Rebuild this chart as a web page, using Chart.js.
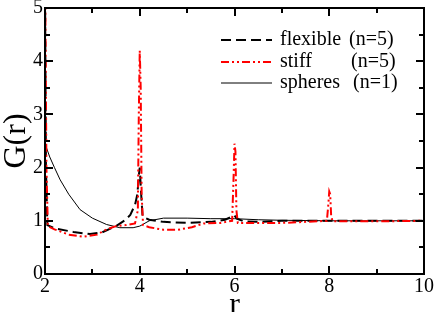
<!DOCTYPE html>
<html>
<head>
<meta charset="utf-8">
<script src="https://cdn.jsdelivr.net/npm/chart.js@4"></script>
<style>
	html, body { margin: 0; padding: 0; background: #fff; }
	canvas { display: block; }
</style>
</head>
<body>
<canvas id="chart" width="436" height="312"></canvas>
<script>
// G(r) curves
const rFlex = [2.0, 2.02, 2.05, 2.2, 2.6, 2.95, 3.2, 3.5, 3.7, 3.8, 3.9, 3.95, 3.98, 4.0, 4.03, 4.06, 4.2, 4.5, 5.0, 5.5, 5.8, 5.95, 6.0, 6.05, 6.2, 6.5, 7.0, 8.0, 9.0, 10.0];
const gFlex = [5.5, 2.0, 0.92, 0.86, 0.79, 0.75, 0.78, 0.9, 1.02, 1.11, 1.3, 1.5, 1.85, 2.0, 1.5, 1.08, 1.02, 0.98, 0.96, 0.98, 1.02, 1.08, 1.1, 1.04, 0.99, 0.98, 1.0, 1.0, 1.0, 1.0];

const rStiff = [2.0, 2.03, 2.06, 2.2, 2.5, 2.8, 3.1, 3.3, 3.5, 3.7, 3.9, 3.96, 3.98, 4.0, 4.02, 4.04, 4.07, 4.2, 4.5, 4.8, 5.1, 5.35, 5.7, 5.95, 5.98, 6.0, 6.02, 6.04, 6.07, 6.5, 7.0, 7.5, 7.95, 7.98, 8.0, 8.02, 8.04, 8.07, 9.0, 10.0];
const gStiff = [6.0, 2.0, 0.9, 0.84, 0.74, 0.7, 0.74, 0.84, 0.9, 0.92, 0.95, 1.2, 3.0, 4.2, 3.5, 1.5, 0.92, 0.88, 0.83, 0.83, 0.88, 0.95, 0.96, 1.0, 1.8, 2.45, 2.3, 1.2, 0.96, 0.96, 0.96, 0.98, 1.0, 1.3, 1.55, 1.5, 1.1, 0.99, 0.99, 1.0];

const rSph = [2.0, 2.1, 2.2, 2.32, 2.5, 2.74, 3.0, 3.3, 3.58, 3.86, 4.0, 4.2, 4.5, 5.0, 5.5, 6.0, 6.5, 7.0, 8.0, 10.0];
const gSph = [2.45, 2.2, 2.0, 1.77, 1.5, 1.21, 1.05, 0.93, 0.87, 0.87, 0.9, 1.0, 1.05, 1.05, 1.04, 1.04, 1.02, 1.01, 1.0, 1.0];

const seriesNames = ["flexible", "stiff", "spheres"];
const seriesN = ["(n=5)", "(n=5)", "(n=1)"];

const xTitle = "r";
const yTitle = "G(r)";

const serif = "'Liberation Serif', 'Times New Roman', serif";

function pts(xs, ys) {
	const out = [];
	for (let i=0; i<xs.length; i++) {
		out.push({x: xs[i], y: ys[i]});
	}
	return out;
}

const styles = [
	{color: "#000000", width: 2, dash: [10, 5]},
	{color: "#ff0000", width: 2, dash: [8, 3, 2, 3, 2, 3]},
	{color: "#000000", width: 1, dash: []},
];

// frame on all four sides and inward ticks, done with fillRect
const framePlugin = {
	id: "frame",
	afterDraw(chart) {
		const ctx = chart.ctx;
		const a = chart.chartArea;
		const xs = chart.scales.x;
		const ys = chart.scales.y;
		const l = Math.round(a.left), r = Math.round(a.right);
		const t = Math.round(a.top), b = Math.round(a.bottom);
		ctx.save();
		ctx.fillStyle = "#000";
		ctx.fillRect(l - 1, t - 1, r - l + 2, 2);
		ctx.fillRect(l - 1, b - 1, r - l + 2, 2);
		ctx.fillRect(l - 1, t - 1, 2, b - t + 2);
		ctx.fillRect(r - 1, t - 1, 2, b - t + 2);

		const nx = Math.round(xs.max - xs.min);
		for (let i=0; i<=nx; i++) {
			const v = xs.min + i;
			const px = Math.round(xs.getPixelForValue(v));
			const len = (v % 2 == 0) ? 8 : 5;
			ctx.fillRect(px - 1, b - len, 2, len);
			ctx.fillRect(px - 1, t, 2, len);
		}
		const ny = Math.round((ys.max - ys.min) * 2);
		for (let i=0; i<=ny; i++) {
			const py = Math.round(ys.getPixelForValue(ys.min + i * 0.5));
			const len = (i % 2 == 0) ? 8 : 5;
			ctx.fillRect(l, py - 1, len, 2);
			ctx.fillRect(r - len, py - 1, len, 2);
		}
		ctx.restore();
	},
};

// legend inside the plot, top right
const legendPlugin = {
	id: "innerLegend",
	afterDraw(chart) {
		const ctx = chart.ctx;
		const rows = [40, 62, 83];
		ctx.save();
		ctx.font = "20px " + serif;
		ctx.fillStyle = "#000";
		ctx.textBaseline = "middle";
		ctx.textAlign = "left";
		for (let i=0; i<seriesNames.length; i++) {
			const s = styles[i];
			ctx.beginPath();
			ctx.strokeStyle = s.color;
			ctx.lineWidth = s.width;
			ctx.setLineDash(s.dash);
			ctx.moveTo(221, rows[i]);
			ctx.lineTo(272, rows[i]);
			ctx.stroke();
			ctx.fillText(seriesNames[i], 280, rows[i]);
			ctx.fillText(seriesN[i], 349 + i*2, rows[i]);
		}
		ctx.restore();
	},
};

const order = [1, 0, 2];
const datasets = [
	{label: seriesNames[1], data: pts(rStiff, gStiff)},
	{label: seriesNames[0], data: pts(rFlex, gFlex)},
	{label: seriesNames[2], data: pts(rSph, gSph)},
].map((d, i) => {
	const s = styles[order[i]];
	return Object.assign(d, {
		borderColor: s.color,
		borderWidth: s.width,
		borderDash: s.dash,
		pointRadius: 0,
		tension: 0,
		fill: false,
	});
});

new Chart("chart", {
	type: "line",
	data: {datasets: datasets},
	options: {
		responsive: false,
		animation: false,
		devicePixelRatio: 1,
		events: [],
		layout: {padding: {top: 8, right: 12, left: 0, bottom: 0}},
		plugins: {
			legend: {display: false},
			tooltip: {enabled: false},
		},
		scales: {
			x: {
				type: "linear",
				min: 2,
				max: 10,
				grid: {display: false, drawTicks: false},
				border: {display: false},
				ticks: {
					stepSize: 2,
					autoSkip: false,
					maxRotation: 0,
					padding: 3,
					color: "#000",
					font: {family: serif, size: 20, lineHeight: 1},
				},
				title: {
					display: true,
					text: xTitle,
					color: "#000",
					font: {family: serif, size: 32, lineHeight: 1},
					padding: {top: 0, bottom: -10},
				},
				afterFit(scale) {
					scale.height = 38;
					scale.paddingLeft = 0;
					scale.paddingRight = 0;
				},
			},
			y: {
				min: 0,
				max: 5,
				grid: {display: false, drawTicks: false},
				border: {display: false},
				ticks: {
					stepSize: 1,
					autoSkip: false,
					padding: 2,
					color: "#000",
					font: {family: serif, size: 20, lineHeight: 1},
				},
				title: {
					display: true,
					text: yTitle,
					color: "#000",
					font: {family: serif, size: 32, lineHeight: 1},
					padding: {top: 1, bottom: 0},
				},
				afterFit(scale) {
					scale.width = 45;
					scale.paddingTop = 0;
					scale.paddingBottom = 0;
				},
			},
		},
	},
	plugins: [framePlugin, legendPlugin],
});
</script>
</body>
</html>
